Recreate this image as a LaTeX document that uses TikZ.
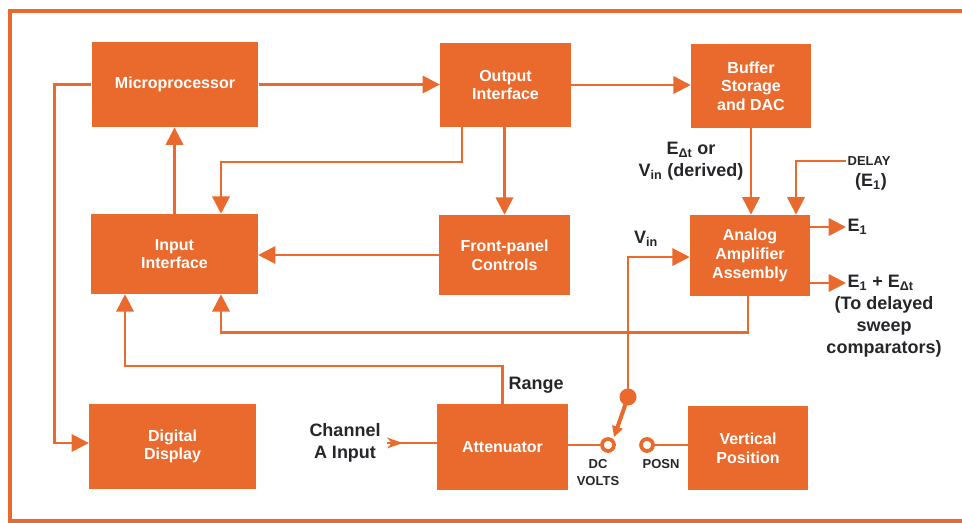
\documentclass[tikz,border=0pt]{standalone}
\usepackage{fontspec}
\setmainfont{Liberation Sans}
\usetikzlibrary{arrows.meta}
\definecolor{hporange}{RGB}{234,106,45}
\definecolor{labelgray}{RGB}{38,38,42}
\begin{document}
\begin{tikzpicture}[x=0.75pt,y=-0.75pt,
	blk/.style={fill=hporange,text=white,font=\fontsize{12}{14}\selectfont\bfseries,align=center,inner sep=0pt},
	colA/.style={minimum width=125pt},
	colB/.style={minimum width=98pt},
	colC/.style={minimum width=90pt},
	lbl/.style={text=labelgray,font=\fontsize{13.5}{16.3}\selectfont\bfseries,align=center,inner sep=1pt},
	tinylbl/.style={text=labelgray,font=\fontsize{9.75}{12.75}\selectfont\bfseries,align=center,inner sep=1pt},
	wire/.style={draw=hporange,line width=1.8pt},
	arr/.style={wire,-{Triangle[length=13pt,width=13pt]}},
	chanarr/.style={wire,-{Stealth[length=12pt,width=8pt,inset=3.5pt]}},
	blade/.style={draw=hporange,line width=3pt,-{Triangle[length=8pt,width=8pt]}},
	contact/.style={circle,draw=hporange,line width=2.8pt,fill=white,minimum size=9pt,inner sep=0pt},
	pivotdot/.style={circle,fill=hporange,minimum size=12.75pt,inner sep=0pt}]
	\useasboundingbox (0,0) rectangle (962,523);
	
	%Frame
	\draw [draw=hporange,line width=3pt] (962,11.5) -- (9.5,11.5) -- (9.5,521) -- (962,521) ;
	
	%Shape: Rectangle
	\node [blk,colA,minimum height=64pt] (micro) at (175,84.5) {Microprocessor};
	\node [blk,colB,minimum height=63pt] (outif) at (505.5,85) {Output\\Interface};
	\node [blk,colC,minimum height=63pt] (buffer) at (751,86) {Buffer\\Storage\\and DAC};
	\node [blk,colA,minimum height=60pt] (inif) at (174.5,254) {Input\\Interface};
	\node [blk,colB,minimum height=60pt] (fpc) at (504.5,255) {Front-panel\\Controls};
	\node [blk,colC,minimum height=61pt] (analog) at (750,255.5) {Analog\\Amplifier\\Assembly};
	\node [blk,colA,minimum height=64pt] (digdisp) at (172.5,446.5) {Digital\\Display};
	\node [blk,colB,minimum height=64pt] (atten) at (502.5,447) {Attenuator};
	\node [blk,colC,minimum height=63pt] (vpos) at (748,448) {Vertical\\Position};
	
	% Text Node
	\node [lbl] (deriv) at (691,161) {E\textsubscript{Δt} or\\V\textsubscript{in} (derived)};
	\node [tinylbl,anchor=west] (delay) at (846,161) {DELAY};
	\node [lbl] (delayE) at (871,182) {(E\textsubscript{1})};
	\node [lbl,anchor=west] (eone) at (846,227) {E\textsubscript{1}};
	\node [lbl,anchor=west] (esum) at (846,283) {E\textsubscript{1} + E\textsubscript{Δt}};
	\node [lbl] (todel) at (884,327) {(To delayed\\sweep\\comparators)};
	\node [lbl] (vin) at (646,239) {V\textsubscript{in}};
	\node [lbl] (range) at (536,385) {Range};
	\node [lbl] (chan) at (345,443) {Channel\\A Input};
	\node [tinylbl] (dclbl) at (598,472.5) {DC\\VOLTS};
	\node [tinylbl] (posnlbl) at (661,464) {POSN};
	
	%Straight Lines
	\draw [arr] (micro.east) -- (outif.west |- micro.east) ;
	\draw [arr] (outif.east) -- (buffer.west |- outif.east) ;
	\draw [arr] (micro.west) -- ++(-37,0) |- ([shift={(0,-3.5)}]digdisp.west) ;
	\draw [arr] (inif.north) -- (inif.north |- micro.south) ;
	\draw [arr] ([shift={(-43.5,0)}]outif.south) -- ++(0,35) -| ([shift={(46.5,0)}]inif.north) ;
	\draw [arr] (outif.south -| fpc.north) -- (fpc.north) ;
	\draw [arr] (fpc.west) -- (inif.east |- fpc.west) ;
	\draw [arr] ([shift={(-2,0)}]analog.south) -- ++(0,36) -| ([shift={(46.5,0)}]inif.south) ;
	\draw [arr] (atten.north) -- ++(0,-38) -| ([shift={(-49.5,0)}]inif.south) ;
	\draw [arr] (buffer.south) -- (buffer.south |- analog.north) ;
	\draw [arr] (delay.west) -| ([shift={(46,0)}]analog.north) ;
	\draw [arr] (analog.east |- eone.west) -- (eone.west) ;
	\draw [arr] (analog.east |- esum.west) -- (esum.west) ;
	
	%Switch
	\node [contact] (dc) at (608,445) {};
	\node [contact] (posn) at (647,445) {};
	\node [pivotdot] (pivot) at (628,397) {};
	\draw [arr] (pivot.center) |- ([shift={(0,1.5)}]analog.west) ;
	\draw [blade] (pivot.center) -- ([shift={(6,-8)}]dc.center) ;
	\draw [wire] (atten.east |- dc.west) -- (dc.west) ;
	\draw [wire] (posn.east) -- (posn.east -| vpos.west) ;
	
	%Channel input
	\draw [wire] ([shift={(5,0)}]chan.east) -- (chan.east -| atten.west) ;
	\draw [chanarr] ([shift={(5,0)}]chan.east) -- ++(16,0) ;
\end{tikzpicture}
\end{document}
